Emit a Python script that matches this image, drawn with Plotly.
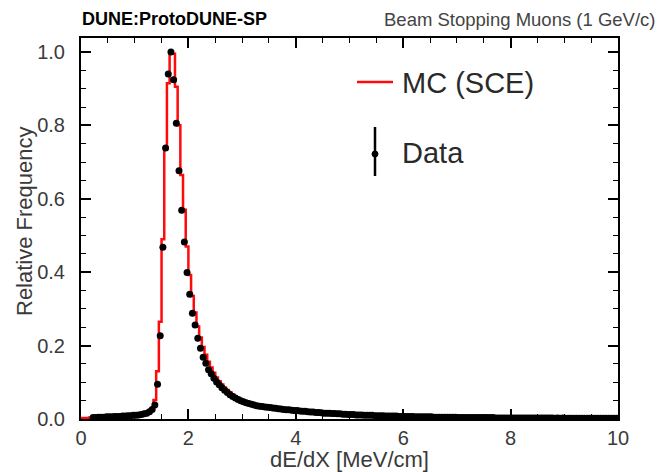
import numpy as np
import plotly.graph_objects as go

# Histogram binning (dE/dX, MeV/cm)
BIN_LO = 0.0
BIN_W = 0.05
N_BINS = 200
DATA_FIRST_BIN = 4  # data starts at 0.2 MeV/cm

# MC (SCE) relative frequency per bin, 0.00 -> 10.00 MeV/cm
mc_0_1 = [0.003, 0.003, 0.003, 0.004,
          0.004, 0.004, 0.005, 0.005, 0.005, 0.006, 0.006, 0.006,
          0.007, 0.007, 0.007, 0.008, 0.008, 0.009, 0.009, 0.010]
mc_1_2 = [0.010, 0.011, 0.012, 0.013, 0.015, 0.018, 0.026, 0.052, 0.130, 0.265,
          0.490, 0.735, 0.915, 1.000, 0.995, 0.905, 0.800, 0.665, 0.570, 0.470]
mc_2_3 = [0.392, 0.335, 0.290, 0.252, 0.222, 0.196, 0.175, 0.156, 0.140, 0.126,
          0.113, 0.103, 0.094, 0.086, 0.079, 0.073, 0.067, 0.062, 0.058, 0.054]
mc_3_4 = [0.050, 0.047, 0.044, 0.042, 0.040, 0.038, 0.037, 0.035, 0.034, 0.033,
          0.032, 0.031, 0.030, 0.029, 0.028, 0.027, 0.026, 0.025, 0.025, 0.024]
mc_4_5 = [0.023, 0.023, 0.022, 0.021, 0.020, 0.020, 0.019, 0.018, 0.018, 0.017,
          0.017, 0.016, 0.016, 0.015, 0.015, 0.014, 0.014, 0.013, 0.013, 0.012]
mc_5_6 = [0.012, 0.012, 0.011, 0.011, 0.011, 0.010, 0.010, 0.010, 0.010, 0.009,
          0.009, 0.009, 0.009, 0.008, 0.008, 0.008, 0.008, 0.008, 0.007, 0.007]
mc_6_7 = [0.007, 0.007, 0.007, 0.007, 0.006, 0.006, 0.006, 0.006, 0.006, 0.006,
          0.006, 0.005, 0.005, 0.005, 0.005, 0.005, 0.005, 0.005, 0.005, 0.005]
mc_7_8 = [0.004, 0.004, 0.004, 0.004, 0.004, 0.004, 0.004, 0.004, 0.004, 0.004,
          0.004, 0.004, 0.004, 0.004, 0.003, 0.003, 0.003, 0.003, 0.003, 0.003]
mc_8_9 = [0.003, 0.003, 0.003, 0.003, 0.003, 0.003, 0.003, 0.003, 0.003, 0.003,
          0.003, 0.003, 0.003, 0.003, 0.003, 0.003, 0.002, 0.003, 0.002, 0.002]
mc_9_10 = [0.002, 0.002, 0.002, 0.002, 0.002, 0.002, 0.002, 0.002, 0.002, 0.002,
           0.002, 0.002, 0.002, 0.002, 0.002, 0.002, 0.002, 0.002, 0.002, 0.002]

# Data relative frequency per bin, 0.20 -> 10.00 MeV/cm
data_0_1 = [0.004, 0.004, 0.005, 0.005, 0.005, 0.006, 0.006, 0.006,
            0.007, 0.007, 0.007, 0.008, 0.008, 0.009, 0.009, 0.010]
data_1_2 = [0.010, 0.011, 0.012, 0.014, 0.016, 0.020, 0.026, 0.038, 0.095, 0.227,
            0.468, 0.738, 0.940, 1.000, 0.924, 0.806, 0.676, 0.569, 0.482, 0.399]
data_2_3 = [0.340, 0.288, 0.256, 0.220, 0.193, 0.168, 0.152, 0.134, 0.123, 0.111,
            0.101, 0.093, 0.085, 0.078, 0.072, 0.066, 0.061, 0.057, 0.053, 0.050]
data_3_4 = [0.047, 0.044, 0.042, 0.040, 0.038, 0.036, 0.035, 0.034, 0.033, 0.032,
            0.031, 0.030, 0.029, 0.028, 0.027, 0.026, 0.025, 0.025, 0.024, 0.023]
data_4_5 = [0.023, 0.022, 0.021, 0.021, 0.020, 0.019, 0.019, 0.018, 0.018, 0.017,
            0.016, 0.016, 0.016, 0.015, 0.015, 0.014, 0.014, 0.013, 0.013, 0.012]
data_5_6 = [0.012, 0.012, 0.011, 0.011, 0.011, 0.010, 0.010, 0.010, 0.010, 0.009,
            0.009, 0.009, 0.009, 0.008, 0.008, 0.008, 0.008, 0.008, 0.007, 0.007]
data_6_7 = [0.007, 0.007, 0.007, 0.007, 0.006, 0.006, 0.006, 0.006, 0.006, 0.006,
            0.006, 0.005, 0.005, 0.005, 0.005, 0.005, 0.005, 0.005, 0.005, 0.005]
data_7_8 = [0.004, 0.004, 0.004, 0.004, 0.004, 0.004, 0.004, 0.004, 0.004, 0.004,
            0.004, 0.004, 0.004, 0.004, 0.003, 0.003, 0.003, 0.003, 0.003, 0.003]
data_8_9 = [0.003, 0.003, 0.003, 0.003, 0.003, 0.003, 0.003, 0.003, 0.003, 0.003,
            0.003, 0.003, 0.003, 0.003, 0.003, 0.003, 0.002, 0.003, 0.002, 0.003]
data_9_10 = [0.002, 0.002, 0.002, 0.002, 0.002, 0.002, 0.002, 0.002, 0.002, 0.002,
             0.002, 0.002, 0.002, 0.002, 0.002, 0.002, 0.002, 0.002, 0.002, 0.002]

x_tickvals = [0, 2, 4, 6, 8, 10]
y_tickvals = [0.0, 0.2, 0.4, 0.6, 0.8, 1.0]
y_ticktext = ["0.0", "0.2", "0.4", "0.6", "0.8", "1.0"]

mc = (mc_0_1 + mc_1_2 + mc_2_3 + mc_3_4 + mc_4_5 + mc_5_6 + mc_6_7 + mc_7_8
      + mc_8_9 + mc_9_10)
data = (data_0_1 + data_1_2 + data_2_3 + data_3_4 + data_4_5 + data_5_6
        + data_6_7 + data_7_8 + data_8_9 + data_9_10)

edges = BIN_LO + BIN_W * np.arange(N_BINS + 1)
centers = BIN_LO + BIN_W * (np.arange(N_BINS) + 0.5)
data_x = centers[DATA_FIRST_BIN:DATA_FIRST_BIN + len(data)]

FONT = "Liberation Sans, Arial, Helvetica, sans-serif"
TXT = "#3a3a3a"

# Canvas and plot-area geometry (pixels)
PW, PH = 663, 472
ML, MR, MT, MB = 81, 45, 38, 53
AW, AH = PW - ML - MR, PH - MT - MB


def px(x):
    """Canvas pixel column -> paper coordinate."""
    return (x - ML) / AW


def py(y):
    """Canvas pixel row -> paper coordinate."""
    return (PH - MB - y) / AH


fig = go.Figure()

# MC histogram drawn as a step outline
fig.add_trace(go.Scatter(
    x=edges, y=mc + [mc[-1]], mode="lines", line_shape="hv",
    line=dict(color="#ff0a0a", width=2.5), showlegend=False,
))

# Data points
fig.add_trace(go.Scatter(
    x=data_x, y=data, mode="markers",
    marker=dict(color="black", size=7, symbol="circle"), showlegend=False,
))

axis_common = dict(
    showline=True, linecolor="black", linewidth=2, mirror="allticks",
    ticks="inside", tickcolor="black", tickwidth=1.5,
    showgrid=False, zeroline=False, automargin=False,
    tickfont=dict(family=FONT, size=20, color=TXT),
)

fig.update_xaxes(
    range=[0, 10], tickvals=x_tickvals, ticklen=10,
    minor=dict(dtick=0.5, ticklen=5, ticks="inside", tickcolor="black",
               tickwidth=1.2, showgrid=False),
    ticklabelstandoff=0,
    **axis_common,
)
fig.update_yaxes(
    range=[0, 1.038], tickvals=y_tickvals, ticktext=y_ticktext, ticklen=10,
    minor=dict(dtick=0.05, ticklen=5, ticks="inside", tickcolor="black",
               tickwidth=1.2, showgrid=False),
    ticklabelstandoff=10,
    **axis_common,
)

# Legend drawn in paper space
shapes = [
    dict(type="line", xref="paper", yref="paper",
         x0=px(357), x1=px(393), y0=py(82), y1=py(82),
         line=dict(color="#ff0a0a", width=2.5)),
    dict(type="line", xref="paper", yref="paper",
         x0=px(375), x1=px(375), y0=py(127), y1=py(176),
         line=dict(color="black", width=2.5)),
    dict(type="circle", xref="paper", yref="paper",
         x0=px(372), x1=px(378), y0=py(151), y1=py(157),
         fillcolor="black", line=dict(color="black", width=1)),
]

annotations = [
    dict(text="MC (SCE)", xref="paper", yref="paper", x=px(400), y=py(83),
         xanchor="left", yanchor="middle", showarrow=False,
         font=dict(family=FONT, size=29, color="#2a2a2a")),
    dict(text="Data", xref="paper", yref="paper", x=px(400), y=py(153),
         xanchor="left", yanchor="middle", showarrow=False,
         font=dict(family=FONT, size=29, color="#2a2a2a")),
    dict(text="<b>DUNE:ProtoDUNE-SP</b>", xref="paper", yref="paper",
         x=px(80), y=py(19), xanchor="left", yanchor="middle", showarrow=False,
         font=dict(family=FONT, size=18, color="black")),
    dict(text="Beam Stopping Muons (1 GeV/c)", xref="paper", yref="paper",
         x=px(657), y=py(19), xanchor="right", yanchor="middle", showarrow=False,
         font=dict(family=FONT, size=18.5, color="#444444")),
    # Axis titles
    dict(text="dE/dX [MeV/cm]", xref="paper", yref="paper", x=0.5, y=py(459),
         xanchor="center", yanchor="middle", showarrow=False,
         font=dict(family=FONT, size=22, color=TXT)),
    dict(text="Relative Frequency", xref="paper", yref="paper", x=px(24), y=py(221),
         xanchor="center", yanchor="middle", showarrow=False, textangle=-90,
         font=dict(family=FONT, size=22, color=TXT)),
]

fig.update_layout(
    width=PW, height=PH,
    margin=dict(l=ML, r=MR, t=MT, b=MB),
    paper_bgcolor="white", plot_bgcolor="white",
    shapes=shapes, annotations=annotations,
    showlegend=False,
)

fig.write_html("out.html")
